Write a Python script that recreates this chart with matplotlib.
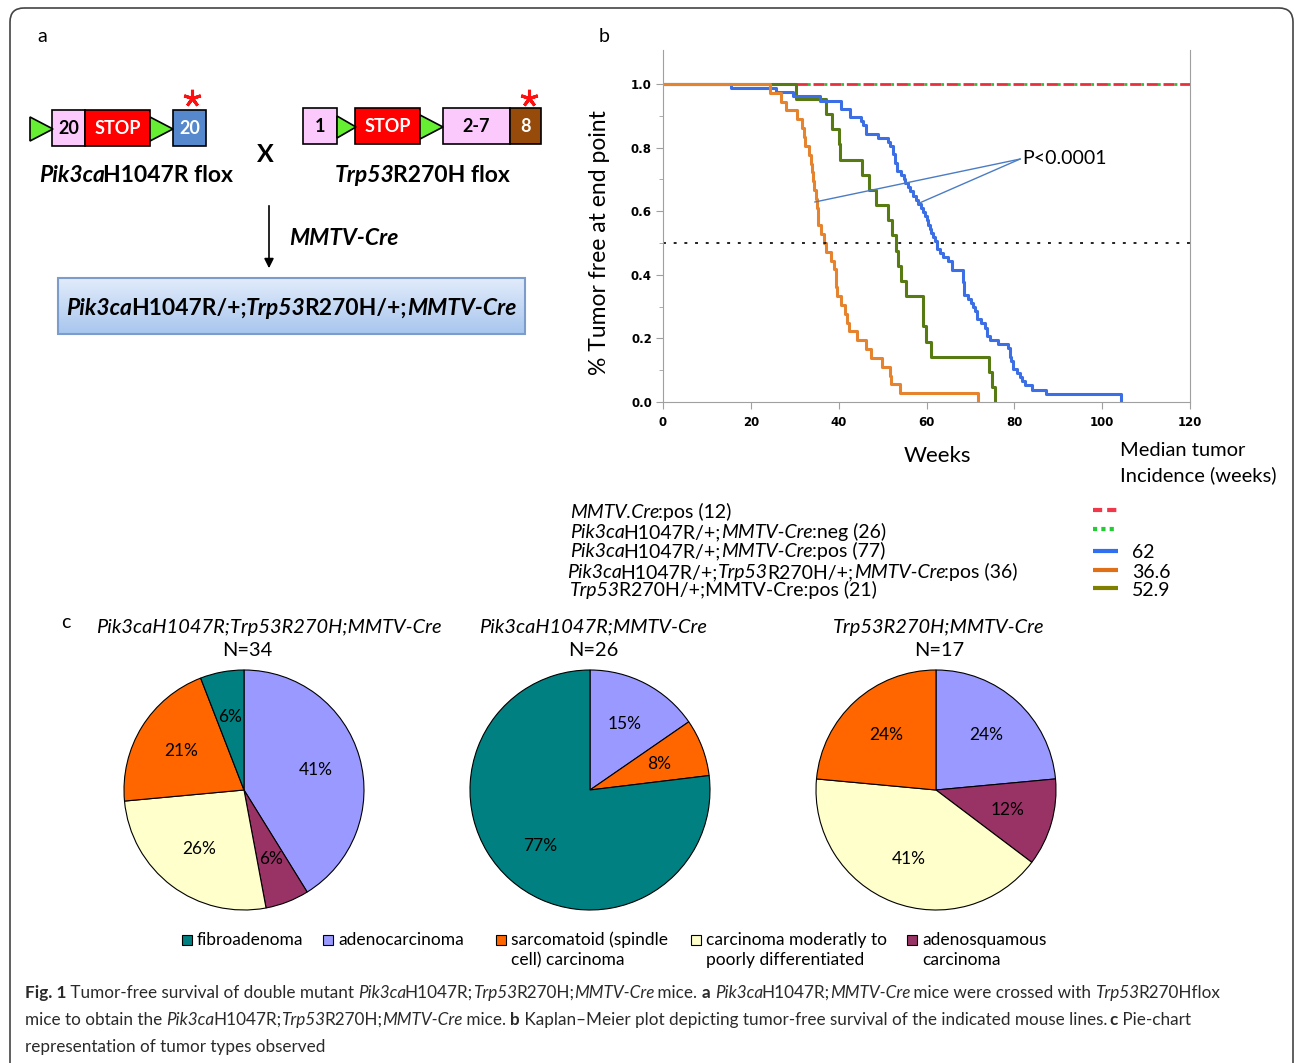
import numpy as np
import matplotlib
matplotlib.use("Agg")
import matplotlib.pyplot as plt
from matplotlib.patches import Rectangle, Polygon, FancyBboxPatch
from matplotlib.colors import LinearSegmentedColormap
from matplotlib.font_manager import FontProperties, findfont, get_font
from matplotlib.ft2font import LoadFlags

plt.rcParams['font.family'] = ['Lato', 'DejaVu Sans']

W, H = 1295, 1063
DPI = 100

# Kaplan-Meier steps (weeks, fraction tumor free)
blue_weeks = [0, 15.4, 25.8, 29.6, 35.7, 40.6, 42.5, 45.1, 45.6, 46.3, 49.0, 51.2, 51.6,
              52.3, 52.8, 53.2, 54.3, 54.8, 55.1, 55.8, 56.3, 57.0, 57.6, 58.0, 58.8, 59.3,
              59.6, 60.0, 60.4, 60.7, 61.1, 61.5, 62.0, 62.3, 63.0, 63.8, 65.0, 65.7, 68.2,
              68.6, 69.5, 70.2, 70.6, 71.0, 71.4, 72.5, 73.3, 73.8, 74.4, 76.3, 78.6, 78.9,
              79.2, 79.7, 80.5, 81.2, 81.7, 82.5, 84.0, 87.3, 104.4]
blue_surv = [1.0, .987, .974, .961, .948, .922, .896, .883, .870, .844, .831, .818, .805,
             .779, .753, .727, .714, .701, .688, .675, .662, .649, .636, .623, .610, .597,
             .584, .571, .558, .545, .532, .519, .506, .481, .468, .455, .442, .416, .377,
             .338, .325, .312, .299, .286, .260, .247, .234, .208, .195, .182, .169, .143,
             .130, .104, .091, .078, .065, .052, .039, .026, 0.0]

orange_weeks = [0, 24.4, 26.9, 27.9, 30.6, 31.6, 32.2, 32.4, 33.3, 33.6, 34.0, 34.2, 34.4,
                34.8, 35.0, 35.2, 35.4, 36.0, 36.6, 37.1, 38.3, 39.0, 39.3, 39.5, 39.7, 40.5,
                41.4, 42.0, 42.4, 44.1, 46.2, 47.3, 49.8, 51.6, 52.0, 53.9, 71.8]
orange_surv = [1.0, .972, .944, .917, .889, .861, .833, .806, .778, .750, .722, .694, .667,
               .639, .611, .583, .556, .528, .500, .472, .444, .417, .389, .361, .333, .306,
               .278, .250, .222, .194, .167, .139, .111, .083, .056, .028, 0.0]

olive_weeks = [0, 30.2, 37.2, 38.4, 40.0, 40.2, 45.4, 46.9, 48.6, 51.3, 52.2, 53.0, 53.6,
               54.1, 55.3, 59.1, 59.3, 59.8, 61.1, 74.3, 74.9, 75.6]
olive_surv = [1.0, .952, .905, .857, .810, .762, .714, .667, .619, .571, .524, .476, .429,
              .381, .333, .286, .238, .190, .143, .095, .048, 0.0]

flat_weeks = [0, 120]
flat_surv = [1.0, 1.0]

median_weeks = ['', '', '62', '36.6', '52.9']

# tumor type counts per cohort
tumor_types = ['fibroadenoma', 'adenocarcinoma', 'sarcomatoid (spindle\ncell) carcinoma',
               'carcinoma moderatly to\npoorly differentiated', 'adenosquamous\ncarcinoma']
tumor_colors = ['#008080', '#9999FF', '#FF6600', '#FFFFCC', '#993366']
pie_titles = ['Pik3caH1047R;Trp53R270H;MMTV-Cre', 'Pik3caH1047R;MMTV-Cre', 'Trp53R270H;MMTV-Cre']
pie_counts = [[2, 14, 7, 9, 2],
              [20, 4, 2, 0, 0],
              [0, 4, 4, 7, 2]]
slice_order = [1, 4, 3, 2, 0]

STYLES = {'n': ('normal', 'normal'), 'i': ('italic', 'normal'),
          'b': ('normal', 'bold'), 'bi': ('italic', 'bold')}


def advance(s, style, weight, size):
    """Pen advance of a string in pixels."""
    fp = FontProperties(family='Lato', style=style, weight=weight, size=size)
    font = get_font(findfont(fp))
    font.set_size(size, DPI)
    total = 0.0
    for ch in s:
        g = font.load_char(ord(ch), flags=LoadFlags.NO_HINTING)
        total += g.linearHoriAdvance / 65536
    return total


def rich_text(ax, x, y, parts, size, ha='left', color='black'):
    """Draw runs of mixed-style text on one baseline."""
    em = size * DPI / 72
    runs = []
    for k, (s, key) in enumerate(parts):
        style, weight = STYLES[key]
        w = advance(s, style, weight, size)
        # italic runs leave a loose gap before upright text
        if style == 'italic' and k + 1 < len(parts) and STYLES[parts[k + 1][1]][0] == 'normal':
            w -= 0.06 * em
        runs.append((s, style, weight, w))
    total = sum(r[3] for r in runs)
    cur = x - total / 2 if ha == 'center' else x
    for s, style, weight, w in runs:
        if s.strip():
            ax.text(cur, y, s, fontsize=size, fontstyle=style, fontweight=weight,
                    ha='left', va='baseline', color=color)
        cur += w


fig = plt.figure(figsize=(W / DPI, H / DPI), dpi=DPI)
fig.patch.set_facecolor('white')

# full-figure layer in pixel units
ax0 = fig.add_axes([0, 0, 1, 1])
ax0.axis('off')

ax0.add_patch(FancyBboxPatch((10, 8), 1283, 1090, boxstyle='round,pad=0,rounding_size=14',
                             fill=False, edgecolor='#444444', lw=1.2))

for lbl, x, y in [('a', 42, 36), ('b', 604, 36), ('c', 66, 622)]:
    ax0.text(x, y, lbl, fontsize=14, ha='center', va='center')

# ---- panel a: alleles ----


def block(x0, x1, y0, y1, fc, label, tc):
    ax0.add_patch(Rectangle((x0, y0), x1 - x0, y1 - y0, facecolor=fc, edgecolor='black', lw=1.2))
    ax0.text((x0 + x1) / 2, (y0 + y1) / 2 + 1, label, ha='center', va='center',
             fontsize=13, fontweight='bold', color=tc)


def loxp(x0, x1, yc, h=24):
    ax0.add_patch(Polygon([(x0, yc - h / 2), (x0, yc + h / 2), (x1, yc)],
                          facecolor='#66EE33', edgecolor='black', lw=1.2, zorder=3))


block(52, 85, 110, 146, '#FBC9FB', '20', 'black')
block(85, 150, 110, 146, '#FF0000', 'STOP', 'white')
block(173, 206, 110, 146, '#5588CC', '20', 'white')
loxp(30, 53, 129)
loxp(150, 173, 129)

block(303, 337, 108, 144, '#FBC9FB', '1', 'black')
block(355, 420, 108, 144, '#FF0000', 'STOP', 'white')
block(443, 510, 108, 144, '#FBC9FB', '2-7', 'black')
block(510, 541, 108, 144, '#964B0B', '8', 'white')
loxp(337, 356, 127, 22)
loxp(420, 443, 127)

for x in (192, 529):
    ax0.plot([x], [98], marker=(5, 2, 0), markersize=12.5, mew=2.2, color='#FF1010')

rich_text(ax0, 136, 182, [('Pik3ca', 'bi'), ('H1047R flox', 'b')], 16.5, ha='center')
rich_text(ax0, 422, 182, [('Trp53', 'bi'), ('R270H flox', 'b')], 16.5, ha='center')
ax0.text(265, 154, 'X', fontsize=18, fontweight='bold', ha='center', va='center')

ax0.annotate('', xy=(269, 271), xytext=(269, 203),
             arrowprops=dict(arrowstyle='-|>', color='black', lw=1.2, mutation_scale=14))
rich_text(ax0, 289, 245, [('MMTV-Cre', 'bi')], 16.5)

grad = np.linspace(0, 1, 100).reshape(-1, 1)
ax0.imshow(grad, extent=(58, 525, 334, 278), aspect='auto',
           cmap=LinearSegmentedColormap.from_list('box', ['#E2ECFB', '#A8C6EE']))
ax0.add_patch(Rectangle((58, 278), 467, 56, fill=False, edgecolor='#7C9CCB', lw=1.5))
rich_text(ax0, 291, 315, [('Pik3ca', 'bi'), ('H1047R/+;', 'b'), ('Trp53', 'bi'),
                          ('R270H/+;', 'b'), ('MMTV-Cre', 'bi')], 16.5, ha='center')

# ---- panel b: Kaplan-Meier ----
ax = fig.add_axes([663 / W, 1 - 402 / H, (1190 - 663) / W, (402 - 50) / H])
ax.step(flat_weeks, flat_surv, where='post', color='#E8303C', lw=2, linestyle=(0, (4, 2)))
ax.step(flat_weeks, flat_surv, where='post', color='#2FBF3A', lw=2, linestyle=(2, (1, 5)))
ax.step(olive_weeks, olive_surv, where='post', color='#587A12', lw=2.2)
ax.step(blue_weeks, blue_surv, where='post', color='#3C6FE6', lw=2.2)
ax.step(orange_weeks, orange_surv, where='post', color='#E5832E', lw=2.2)
ax.axhline(0.5, color='#222222', lw=1.4, linestyle=(0, (1.5, 4)))

ax.plot([81.3, 34.6], [0.764, 0.629], color='#4A7CC4', lw=1)
ax.plot([81.3, 58.1], [0.764, 0.624], color='#4A7CC4', lw=1)
ax.text(81.7, 0.766, 'P<0.0001', fontsize=14, va='center', ha='left')

ax.set_xlim(0, 120)
ax.set_ylim(0, (402 - 50) / 318)
ax.spines['top'].set_visible(False)
for side in ('left', 'right', 'bottom'):
    ax.spines[side].set_color('#A0A0A0')
ax.set_xticks(range(0, 121, 20), labels=[str(v) for v in range(0, 121, 20)],
              fontweight='bold', fontfamily='DejaVu Sans', fontsize=8.5)
ax.set_yticks(np.arange(0, 1.01, 0.2), labels=['0.0', '0.2', '0.4', '0.6', '0.8', '1.0'],
              fontweight='bold', fontfamily='DejaVu Sans', fontsize=8.5)
ax.set_yticks(np.arange(0.1, 1.0, 0.2), minor=True)
ax.tick_params(axis='both', which='major', direction='out', length=5, color='#A0A0A0', pad=3)
ax.tick_params(axis='x', which='major', pad=5)
ax.tick_params(axis='y', which='minor', direction='out', length=3, color='#A0A0A0')
ax.tick_params(axis='y', which='both', right=False)
ax.set_facecolor('none')

ax0.text(600, 243, '% Tumor free at end point', fontsize=16.5, rotation=90,
         ha='center', va='center')
ax0.text(937, 456, 'Weeks', fontsize=16, ha='center', va='center')
ax0.text(1120, 450, 'Median tumor', fontsize=14.5, ha='left', va='center')
ax0.text(1120, 475, 'Incidence (weeks)', fontsize=14.5, ha='left', va='center')

legend_lines = [
    [('MMTV.Cre', 'i'), (':pos (12)', 'n')],
    [('Pik3ca', 'i'), ('H1047R/+;', 'n'), ('MMTV-Cre', 'i'), (':neg (26)', 'n')],
    [('Pik3ca', 'i'), ('H1047R/+;', 'n'), ('MMTV-Cre', 'i'), (':pos (77)', 'n')],
    [('Pik3ca', 'i'), ('H1047R/+;', 'n'), ('Trp53', 'i'), ('R270H/+;', 'n'),
     ('MMTV-Cre', 'i'), (':pos (36)', 'n')],
    [('Trp53', 'i'), ('R270H/+;MMTV-Cre:pos (21)', 'n')],
]
leg_x = [570, 570, 570, 567, 570]
leg_base = [518, 538, 557, 578, 596]
leg_sample_y = [510, 529, 551, 570, 588]
leg_styles = [dict(color='#F0384A', linestyle=(0, (2.2, 1.2))),
              dict(color='#22CC33', linestyle=(0, (1, 1))),
              dict(color='#3070F0', linestyle='-'),
              dict(color='#E07018', linestyle='-'),
              dict(color='#808000', linestyle='-')]
for parts, x, yb, ys, st, med in zip(legend_lines, leg_x, leg_base, leg_sample_y,
                                     leg_styles, median_weeks):
    rich_text(ax0, x, yb, parts, 14)
    ax0.plot([1093, 1118], [ys, ys], lw=3, solid_capstyle='butt', **st)
    if med:
        ax0.text(1132, ys + 2, med, fontsize=14, ha='left', va='center')

# ---- panel c: tumor types ----
for cx, title, counts in zip([244, 590, 936], pie_titles, pie_counts):
    pax = fig.add_axes([(cx - 130) / W, 1 - (790 + 130) / H, 260 / W, 260 / H])
    vals = [counts[i] for i in slice_order if counts[i] > 0]
    cols = [tumor_colors[i] for i in slice_order if counts[i] > 0]
    pax.pie(vals, colors=cols, startangle=90, counterclock=False, radius=1,
            autopct='%.0f%%', pctdistance=0.62,
            wedgeprops=dict(edgecolor='black', linewidth=0.8),
            textprops=dict(fontsize=12.5))
    pax.set_xlim(-130 / 120, 130 / 120)
    pax.set_ylim(-130 / 120, 130 / 120)
    pax.set_aspect('equal')
    tx = cx + 25 if cx == 244 else cx + 3
    ax0.text(tx, 627, title, fontsize=14.4, fontstyle='italic', ha='center', va='center')
    ax0.text(cx + 3, 651, 'N=%d' % sum(counts), fontsize=14.4, ha='center', va='center')

for x, label, col in zip([182, 323, 496, 691, 907], tumor_types, tumor_colors):
    ax0.add_patch(Rectangle((x, 935), 10, 10, facecolor=col, edgecolor='black', lw=0.8))
    for k, line in enumerate(label.split('\n')):
        ax0.text(x + 15, 940 + 20 * k, line, fontsize=12.5, ha='left', va='center')

# ---- caption ----
cap_color = '#2A2A2A'
cap_size = 12.3
rich_text(ax0, 25, 998, [('Fig. 1', 'b'), (' Tumor-free survival of double mutant ', 'n'),
                         ('Pik3ca', 'i'), ('H1047R;', 'n'), ('Trp53', 'i'), ('R270H;', 'n'),
                         ('MMTV-Cre', 'i'), (' mice. ', 'n'), ('a', 'b'), (' ', 'n'),
                         ('Pik3ca', 'i'), ('H1047R;', 'n'), ('MMTV-Cre', 'i'),
                         (' mice were crossed with ', 'n'), ('Trp53', 'i'), ('R270Hflox', 'n')],
          cap_size, color=cap_color)
rich_text(ax0, 25, 1025, [('mice to obtain the ', 'n'), ('Pik3ca', 'i'), ('H1047R;', 'n'),
                          ('Trp53', 'i'), ('R270H;', 'n'), ('MMTV-Cre', 'i'), (' mice. ', 'n'),
                          ('b', 'b'),
                          (' Kaplan\u2013Meier plot depicting tumor-free survival of the indicated mouse lines. ', 'n'),
                          ('c', 'b'), (' Pie-chart', 'n')], cap_size, color=cap_color)
rich_text(ax0, 25, 1052, [('representation of tumor types observed', 'n')], cap_size,
          color=cap_color)

ax0.set_xlim(0, W)
ax0.set_ylim(H, 0)

fig.savefig('out.png', dpi=DPI, facecolor='white')
